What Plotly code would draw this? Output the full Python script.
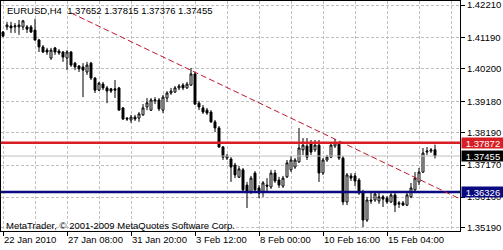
import plotly.graph_objects as go

# ---- data (EURUSD H4 bars) ----
open_ = [1.4136,1.4152,1.4155,1.4152,1.4152,1.4152,1.4152,1.4152,1.4142,1.4111,
         1.4089,1.4079,1.4054,1.4086,1.4076,1.4073,1.4054,1.4073,1.4038,1.4029,
         1.4026,1.4010,1.4038,1.3991,1.3953,1.3972,1.3960,1.3957,1.3957,1.3960,
         1.3897,1.3865,1.3859,1.3868,1.3865,1.3875,1.3900,1.3890,1.3919,1.3922,
         1.3890,1.3928,1.3944,1.3947,1.3960,1.3969,1.3960,1.3969,1.4004,1.3912,
         1.3897,1.3890,1.3884,1.3853,1.3834,1.3774,1.3739,1.3736,1.3717,1.3679,
         1.3702,1.3654,1.3632,1.3692,1.3645,1.3632,1.3654,1.3648,1.3692,1.3670,
         1.3651,1.3680,1.3702,1.3711,1.3727,1.3765,1.3777,1.3787,1.3765,1.3780,
         1.3692,1.3733,1.3742,1.3777,1.3783,1.3739,1.3601,1.3683,1.3683,1.3670,
         1.3632,1.3544,1.3607,1.3607,1.3604,1.3617,1.3613,1.3601,1.3623,1.3598,
         1.3598,1.3591,1.3617,1.3639,1.3664,1.3695,1.3758,1.3761,1.37652]
high = [1.4139,1.4168,1.4168,1.4164,1.4174,1.4174,1.4158,1.4158,1.4177,1.4114,
        1.4095,1.4086,1.4086,1.4089,1.4082,1.4076,1.4079,1.4076,1.4042,1.4032,
        1.4038,1.4042,1.4042,1.3994,1.3979,1.3979,1.3966,1.3960,1.3985,1.3963,
        1.3900,1.3868,1.3875,1.3875,1.3884,1.3909,1.3928,1.3928,1.3931,1.3928,
        1.3938,1.3950,1.3960,1.3966,1.3972,1.3975,1.3979,1.4023,1.4010,1.3919,
        1.3906,1.3897,1.3890,1.3859,1.3840,1.3777,1.3752,1.3742,1.3724,1.3714,
        1.3708,1.3664,1.3683,1.3698,1.3654,1.3667,1.3676,1.3702,1.3702,1.3680,
        1.3683,1.3733,1.3746,1.3739,1.3834,1.3802,1.3802,1.3796,1.3796,1.3796,
        1.3739,1.3749,1.3787,1.3799,1.3787,1.3746,1.3692,1.3692,1.3692,1.3676,
        1.3639,1.3617,1.3632,1.3632,1.3629,1.3623,1.3620,1.3629,1.3629,1.3604,
        1.3604,1.3629,1.3661,1.3695,1.3708,1.3771,1.3774,1.3771,1.37815]
low = [1.4120,1.4142,1.4133,1.4133,1.4127,1.4142,1.4133,1.4133,1.4108,1.4073,
       1.4070,1.4064,1.4048,1.4064,1.4064,1.4042,1.4016,1.4026,1.4016,1.4010,
       1.3931,1.4001,1.3985,1.3944,1.3950,1.3953,1.3912,1.3944,1.3928,1.3890,
       1.3859,1.3856,1.3850,1.3856,1.3853,1.3872,1.3890,1.3887,1.3909,1.3887,
       1.3881,1.3916,1.3938,1.3944,1.3953,1.3953,1.3957,1.3966,1.3906,1.3890,
       1.3878,1.3875,1.3850,1.3821,1.3771,1.3733,1.3733,1.3664,1.3676,1.3676,
       1.3632,1.3582,1.3626,1.3629,1.3613,1.3617,1.3632,1.3642,1.3661,1.3645,
       1.3645,1.3676,1.3695,1.3705,1.3724,1.3749,1.3733,1.3749,1.3758,1.3664,
       1.3686,1.3727,1.3739,1.3771,1.3733,1.3591,1.3591,1.3667,1.3651,1.3623,
       1.3522,1.3538,1.3595,1.3601,1.3595,1.3585,1.3595,1.3598,1.3569,1.3582,
       1.3588,1.3588,1.3613,1.3629,1.3654,1.3692,1.3749,1.3755,1.37376]
close = [1.4123,1.4158,1.4149,1.4155,1.4158,1.4171,1.4145,1.4136,1.4111,1.4089,
         1.4073,1.4073,1.4079,1.4073,1.4070,1.4057,1.4073,1.4032,1.4026,1.4020,
         1.4016,1.4032,1.3991,1.3953,1.3975,1.3960,1.3950,1.3950,1.3953,1.3890,
         1.3862,1.3862,1.3868,1.3862,1.3878,1.3897,1.3913,1.3922,1.3922,1.3894,
         1.3931,1.3944,1.3950,1.3960,1.3966,1.3960,1.3972,1.4004,1.3909,1.3900,
         1.3884,1.3881,1.3853,1.3834,1.3774,1.3742,1.3746,1.3711,1.3686,1.3705,
         1.3639,1.3632,1.3676,1.3639,1.3629,1.3661,1.3651,1.3692,1.3667,1.3654,
         1.3676,1.3724,1.3733,1.3733,1.3771,1.3780,1.3742,1.3758,1.3780,1.3692,
         1.3733,1.3742,1.3780,1.3787,1.3739,1.3601,1.3686,1.3676,1.3667,1.3629,
         1.3544,1.3607,1.3604,1.3626,1.3617,1.3610,1.3601,1.3623,1.3591,1.3595,
         1.3591,1.3623,1.3645,1.3676,1.3695,1.3755,1.3761,1.3765,1.37455]
bar_index = list(range(len(close)))

time_tick_pos = [0, 16, 32, 48, 64, 80, 96]
time_tick_labels = ["22 Jan 2010", "27 Jan 08:00", "31 Jan 20:00", "3 Feb 12:00",
                    "8 Feb 00:00", "10 Feb 16:00", "15 Feb 04:00"]
time_minor_pos = [8, 24, 40, 56, 72, 88, 104, 112]
price_ticks = [1.42210, 1.41190, 1.40200, 1.39180, 1.38190, 1.37170, 1.36160, 1.35190]

resistance = 1.37872
support = 1.36326
bid = 1.37455
trend_x = [17, 114.5]
trend_y = [1.4196, 1.3609]

header = "EURUSD,H4  1.37652 1.37815 1.37376 1.37455"
copyright_text = "MetaTrader, © 2001-2009 MetaQuotes Software Corp."

FONT = "Liberation Sans, Arial, sans-serif"
GRID = "#c0c0c0"

fig = go.Figure()

# bid line (grey)
fig.add_trace(go.Scatter(x=[-1, 120], y=[bid, bid], mode="lines",
                         line=dict(color="#c0c0c0", width=1), hoverinfo="skip",
                         showlegend=False))
# horizontal levels
fig.add_trace(go.Scatter(x=[-1, 120], y=[resistance, resistance], mode="lines",
                         line=dict(color="#d81e24", width=2.5), hoverinfo="skip",
                         showlegend=False))
fig.add_trace(go.Scatter(x=[-1, 120], y=[support, support], mode="lines",
                         line=dict(color="#0a0a80", width=2.5), hoverinfo="skip",
                         showlegend=False))
# trendline
fig.add_trace(go.Scatter(x=trend_x, y=trend_y, mode="lines",
                         line=dict(color="#c0182e", width=1, dash="6px,3px"),
                         hoverinfo="skip", showlegend=False))

fig.add_trace(go.Candlestick(
    x=bar_index, open=open_, high=high, low=low, close=close,
    increasing=dict(line=dict(color="black", width=1), fillcolor="white"),
    decreasing=dict(line=dict(color="black", width=1), fillcolor="black"),
    whiskerwidth=0, showlegend=False))

fig.update_layout(
    width=503, height=250,
    margin=dict(l=1, r=43, t=1, b=19, autoexpand=False),
    paper_bgcolor="white", plot_bgcolor="white",
    font=dict(family=FONT, size=9.5, color="black"),
    showlegend=False,
    boxgap=0.3,
    xaxis=dict(
        range=[-0.5, 114.25], rangeslider=dict(visible=False),
        tickmode="array", tickvals=time_tick_pos, ticktext=time_tick_labels,
        ticks="outside", ticklen=4, tickcolor="black", tickangle=0,
        ticklabelposition="outside right", automargin=False,
        ticklabeloverflow="allow",
        tickfont=dict(family=FONT, size=9.5, color="black"),
        showgrid=True, gridcolor=GRID, griddash="3px,2px", gridwidth=1,
        minor=dict(tickvals=time_minor_pos, showgrid=True, gridcolor=GRID,
                   griddash="3px,2px", ticks=""),
        showline=True, linecolor="black", linewidth=1, mirror=True,
        zeroline=False, fixedrange=True,
    ),
    yaxis=dict(
        side="right", range=[1.35095, 1.42336], automargin=False,
        tickmode="array", tickvals=price_ticks,
        ticktext=[f"{v:.5f}" for v in price_ticks],
        ticks="outside", ticklen=4, tickcolor="black",
        ticklabeloverflow="allow",
        tickfont=dict(family=FONT, size=9.5, color="black"),
        showgrid=True, gridcolor=GRID, griddash="3px,2px", gridwidth=1,
        showline=True, linecolor="black", linewidth=1, mirror=True,
        zeroline=False, fixedrange=True,
    ),
)

def price_box(value, bg):
    fig.add_annotation(x=1, xref="paper", y=value, yref="y",
                       xanchor="left", yanchor="middle", xshift=1,
                       text=f"{value:.5f}", showarrow=False,
                       bgcolor=bg, borderpad=0, width=42, height=10,
                       align="center",
                       font=dict(family=FONT, size=9.5, color="white"))

price_box(resistance, "#d81e24")
price_box(bid, "#000000")
price_box(support, "#0a0a80")

fig.add_annotation(x=0.0105, xref="paper", y=0.957, yref="paper",
                   xanchor="left", yanchor="middle", text=header, showarrow=False,
                   borderpad=0, font=dict(family=FONT, size=9.5, color="black"))
fig.add_annotation(x=0.009, xref="paper", y=0.026, yref="paper",
                   xanchor="left", yanchor="middle", text=copyright_text,
                   showarrow=False, borderpad=0,
                   font=dict(family=FONT, size=9.5, color="black"))

fig.write_html("out.html")
